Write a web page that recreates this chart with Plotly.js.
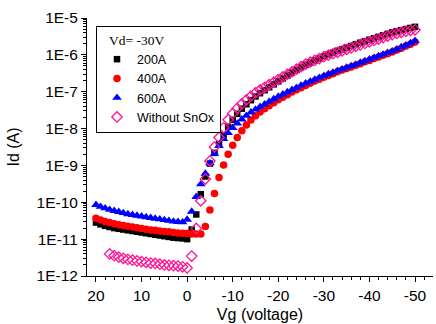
<!DOCTYPE html>
<html>
<head>
<meta charset="utf-8">
<script src="https://cdn.plot.ly/plotly-3.0.1.min.js"></script>
<style>html,body{margin:0;padding:0;background:#fff;}#chart{width:436px;height:324px;}</style>
</head>
<body>
<div id="chart"></div>
<script>
// Gate voltage (V)
var vg = [20,19,18,17,16,15,14,13,12,11,10,9,8,7,6,5,4,3,2,1,0,
  -1,-2,-3,-4,-5,-6,-7,-8,-9,-10,-11,-12,-13,-14,-15,-16,
  -17,-18,-19,-20,-21,-22,-23,-24,-25,-26,-27,-28,-29,-30,-31,-32,-33,
  -34,-35,-36,-37,-38,-39,-40,-41,-42,-43,-44,-45,-46,-47,-48,-49,-50];
var vgBare = [17,16,15,14,13,12,11,10,9,8,7,6,5,4,3,2,1,0,
  -1,-2,-3,-4,-5,-6,-7,-8,-9,-10,-11,-12,-13,-14,-15,-16,
  -17,-18,-19,-20,-21,-22,-23,-24,-25,-26,-27,-28,-29,-30,-31,-32,-33,
  -34,-35,-36,-37,-38,-39,-40,-41,-42,-43,-44,-45,-46,-47,-48,-49,-50];

// log10 of drain current Id (A)
var log200A = [-10.55,-10.60,-10.64,-10.67,-10.70,-10.72,-10.74,-10.76,-10.78,-10.80,-10.82,-10.84,-10.86,-10.88,-10.90,-10.92,-10.94,-10.96,-10.97,-10.98,-11.00,
  -10.74,-10.33,-9.78,-9.30,-8.95,-8.66,-8.42,-8.18,-7.95,-7.76,-7.60,-7.46,-7.34,-7.23,-7.13,-7.04,
  -6.96,-6.88,-6.80,-6.72,-6.64,-6.56,-6.48,-6.41,-6.34,-6.27,-6.21,-6.15,-6.10,-6.04,-5.99,-5.94,-5.89,-5.85,-5.80,-5.76,-5.71,-5.67,-5.63,-5.59,-5.55,-5.51,-5.47,-5.43,-5.39,-5.36,-5.33,-5.30,-5.27,-5.24];
var log400A = [-10.43,-10.48,-10.52,-10.55,-10.58,-10.61,-10.63,-10.65,-10.67,-10.69,-10.71,-10.73,-10.75,-10.76,-10.78,-10.79,-10.80,-10.82,-10.83,-10.84,-10.85,
  -10.86,-10.86,-10.86,-10.66,-10.21,-9.76,-9.33,-8.99,-8.70,-8.45,-8.24,-8.06,-7.90,-7.77,-7.65,-7.55,
  -7.46,-7.38,-7.30,-7.22,-7.15,-7.08,-7.01,-6.95,-6.89,-6.83,-6.77,-6.71,-6.66,-6.61,-6.56,-6.51,-6.46,-6.41,-6.37,-6.33,-6.28,-6.24,-6.19,-6.15,-6.10,-6.06,-6.01,-5.97,-5.92,-5.87,-5.82,-5.76,-5.71,-5.65];
var log600A = [-10.07,-10.12,-10.16,-10.20,-10.23,-10.26,-10.29,-10.32,-10.34,-10.36,-10.38,-10.40,-10.42,-10.44,-10.46,-10.48,-10.50,-10.52,-10.53,-10.54,-10.47,
  -10.25,-9.85,-9.51,-9.22,-8.94,-8.68,-8.47,-8.28,-8.12,-7.98,-7.86,-7.75,-7.65,-7.56,-7.48,-7.41,
  -7.34,-7.27,-7.20,-7.13,-7.07,-7.01,-6.95,-6.89,-6.83,-6.77,-6.72,-6.67,-6.62,-6.57,-6.52,-6.48,-6.43,-6.39,-6.34,-6.30,-6.26,-6.21,-6.17,-6.12,-6.08,-6.03,-5.99,-5.94,-5.90,-5.85,-5.79,-5.74,-5.68,-5.62];
var logBare = [-11.40,-11.45,-11.49,-11.52,-11.55,-11.57,-11.59,-11.61,-11.63,-11.65,-11.66,-11.68,-11.70,-11.71,-11.72,-11.73,-11.75,-11.78,
  -11.46,-10.71,-9.96,-9.37,-8.88,-8.50,-8.24,-7.98,-7.76,-7.59,-7.45,-7.33,-7.22,-7.12,-7.03,-6.95,
  -6.88,-6.81,-6.74,-6.67,-6.60,-6.53,-6.46,-6.39,-6.32,-6.25,-6.20,-6.15,-6.10,-6.05,-6.01,-5.97,-5.93,-5.89,-5.85,-5.81,-5.77,-5.73,-5.69,-5.65,-5.61,-5.57,-5.53,-5.49,-5.45,-5.42,-5.39,-5.36,-5.34,-5.32];

var seriesNames = ['200A','400A','600A','Without SnOx'];
var yTickVals = [1e-12,1e-11,1e-10,1e-9,1e-8,1e-7,1e-6,1e-5];
var yTickText = ['1E-12','1E-11','1E-10','1E-9','1E-8','1E-7','1E-6','1E-5'];
var xTickVals = [20,10,0,-10,-20,-30,-40,-50];
var xTickText = ['20','10','0','-10','-20','-30','-40','-50'];

function toA(arr){ return arr.map(function(e){ return Math.pow(10, e); }); }

var F = 'Liberation Sans, Arial, sans-serif';
var traces = [
  {x: vg, y: toA(log200A), name: seriesNames[0], mode: 'markers', type: 'scatter',
   marker: {symbol: 'square', size: 6.5, color: '#000000'}},
  {x: vg, y: toA(log400A), name: seriesNames[1], mode: 'markers', type: 'scatter',
   marker: {symbol: 'circle', size: 7.5, color: '#ff0000'}},
  {x: vg, y: toA(log600A), name: seriesNames[2], mode: 'markers', type: 'scatter',
   marker: {symbol: 'triangle-up', size: 8.5, color: '#0000ff'}},
  {x: vgBare, y: toA(logBare), name: seriesNames[3], mode: 'markers', type: 'scatter',
   marker: {symbol: 'diamond-open', size: 8, color: '#ff1493', line: {width: 1.3, color: '#ff1493'}}}
];

var xr = [21.97, -53.95];
var yr = [-12, -5];
var layout = {
  width: 436, height: 324,
  margin: {l: 87, r: 3, t: 18, b: 48},
  paper_bgcolor: '#ffffff', plot_bgcolor: '#ffffff',
  font: {family: F, size: 15, color: '#000'},
  showlegend: true,
  legend: {
    x: 0.026, y: 0.969, xanchor: 'left', yanchor: 'top',
    bgcolor: '#ffffff', bordercolor: '#000000', borderwidth: 1,
    font: {family: F, size: 12.5, color: '#000'},
    title: {text: '&nbsp;&nbsp;&nbsp;Vd= -30V', font: {family: 'Liberation Serif, Times New Roman, serif', size: 13.5, color: '#000'}},
    itemwidth: 30, tracegroupgap: 0
  },
  xaxis: {
    range: xr, tickvals: xTickVals, ticktext: xTickText,
    showgrid: false, zeroline: false, showline: true, linecolor: '#000', linewidth: 1,
    ticks: 'outside', ticklen: 5, tickcolor: '#000', tickwidth: 1,
    tickfont: {family: F, size: 15.5, color: '#000'},
    minor: {dtick: 2, tick0: 0, ticks: 'outside', ticklen: 3, tickcolor: '#000', showgrid: false},
    title: {text: 'Vg (voltage)', font: {family: F, size: 16, color: '#000'}, standoff: 6}
  },
  xaxis2: {
    overlaying: 'x', side: 'top', matches: 'x', range: xr, tickvals: xTickVals,
    showticklabels: false, showgrid: false, zeroline: false, showline: true, linecolor: '#000', linewidth: 1,
    ticks: 'inside', ticklen: 5, tickcolor: '#000',
    minor: {dtick: 2, tick0: 0, ticks: 'inside', ticklen: 3, tickcolor: '#000', showgrid: false}
  },
  yaxis: {
    type: 'log', range: yr, tickvals: yTickVals, ticktext: yTickText,
    showgrid: false, zeroline: false, showline: true, linecolor: '#000', linewidth: 1,
    ticks: 'outside', ticklen: 5, tickcolor: '#000',
    tickfont: {family: F, size: 15.5, color: '#000'},
    minor: {dtick: 'D1', ticks: 'outside', ticklen: 3, tickcolor: '#000', showgrid: false},
    title: {text: 'Id (A)', font: {family: F, size: 16, color: '#000'}, standoff: 12}
  },
  yaxis2: {
    type: 'log', overlaying: 'y', side: 'right', range: yr, tickvals: yTickVals,
    showticklabels: false, showgrid: false, zeroline: false, showline: true, linecolor: '#000', linewidth: 1,
    ticks: 'inside', ticklen: 5, tickcolor: '#000',
    minor: {dtick: 'D1', ticks: 'inside', ticklen: 3, tickcolor: '#000', showgrid: false}
  }
};

Plotly.newPlot('chart', traces, layout, {displayModeBar: false, staticPlot: true});
</script>
</body>
</html>
